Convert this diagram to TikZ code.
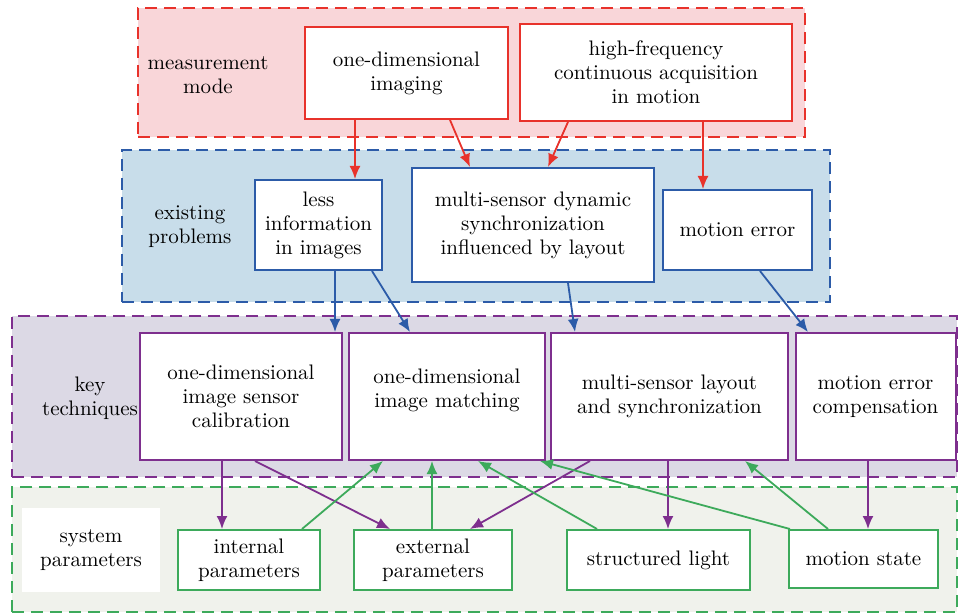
\documentclass[tikz,border=0pt]{standalone}
\usetikzlibrary{arrows.meta,calc}
\definecolor{rline}{HTML}{E8322B}
\definecolor{rfill}{HTML}{F9D6D9}
\definecolor{bline}{HTML}{2C5BA8}
\definecolor{bfill}{HTML}{C8DDEA}
\definecolor{pline}{HTML}{7E2F8E}
\definecolor{pfill}{HTML}{DCD9E5}
\definecolor{gline}{HTML}{3DAA5B}
\definecolor{gfill}{HTML}{F0F2EC}
\tikzset{
  region/.style={draw, line width=1pt, dash pattern=on 6pt off 3.5pt, inner sep=0pt},
  box/.style={draw, fill=white, line width=1pt, inner sep=0pt, align=center,
     font=\fontsize{10.5}{12}\selectfont},
  lab/.style={align=center, font=\fontsize{10.5}{12}\selectfont},
  arr/.style={line width=0.9pt, -{Latex[length=6.5pt,width=5.5pt]}},
}
\begin{document}
\begin{tikzpicture}[x=0.5pt,y=-0.5pt]
\useasboundingbox (0,0) rectangle (960,615);
% regions
\node[region, draw=rline, fill=rfill, minimum width=333.5pt, minimum height=64.5pt] (rreg) at (471.5,72.5) {};
\node[region, draw=bline, fill=bfill, minimum width=354pt, minimum height=76pt] (breg) at (476,226) {};
\node[region, draw=pline, fill=pfill, minimum width=472.5pt, minimum height=80.5pt] (preg) at (484.75,396.5) {};
\node[region, draw=gline, fill=gfill, minimum width=472.5pt, minimum height=62.5pt] (greg) at (484.75,549.5) {};
% labels
\node[lab] (lmm) at (208,75) {measurement\\mode};
\node[lab] (lep) at (190,227) {existing\\problems};
\node[lab] (lkt) at (90,398) {key\\techniques};
\node[lab, fill=white, minimum width=69pt, minimum height=42pt] (lsp) at (91,550) {system\\parameters};
% red boxes
\node[box, draw=rline, minimum width=101.5pt, minimum height=46pt] (img) at (406.5,73) {one-dimensional\\imaging};
\node[box, draw=rline, minimum width=136pt, minimum height=48.5pt] (hf) at (656,72.5) {high-frequency\\continuous acquisition\\in motion};
% blue boxes
\node[box, draw=bline, minimum width=63.5pt, minimum height=45pt] (less) at (318.5,225) {less\\information\\in images};
\node[box, draw=bline, minimum width=121pt, minimum height=57pt] (dyn) at (533,225) {multi-sensor dynamic\\synchronization\\influenced by layout};
\node[box, draw=bline, minimum width=74.5pt, minimum height=40pt] (merr) at (737.5,230) {motion error};
% purple boxes
\node[box, draw=pline, minimum width=101pt, minimum height=63.5pt] (cal) at (241,396.5) {one-dimensional\\image sensor\\calibration};
\node[box, draw=pline, minimum width=98pt, minimum height=63.5pt] (mat) at (447,396.5) {one-dimensional\\image matching\\[-4pt]\mbox{}};
\node[box, draw=pline, minimum width=118.5pt, minimum height=63.5pt] (lay) at (669.5,396.5) {multi-sensor layout\\and synchronization};
\node[box, draw=pline, minimum width=80pt, minimum height=63.5pt] (comp) at (875.5,396.5) {motion error\\compensation};
% green boxes
\node[box, draw=gline, minimum width=71pt, minimum height=30pt] (int) at (249,560) {internal\\parameters};
\node[box, draw=gline, minimum width=79pt, minimum height=30pt] (ext) at (433,560) {external\\parameters};
\node[box, draw=gline, minimum width=91.5pt, minimum height=30pt] (str) at (658.5,560) {structured light};
\node[box, draw=gline, minimum width=74.5pt, minimum height=29pt] (ms) at (863.5,559) {motion state};
% red arrows
\draw[arr, rline] ($(img.south)+(-51.5,0)$) -- ($(less.north)+(36.5,0)$);
\draw[arr, rline] ($(img.south)+(43.5,0)$) -- ($(dyn.north)+(-63,0)$);
\draw[arr, rline] ($(hf.south)+(-88,0)$) -- ($(dyn.north)+(15,0)$);
\draw[arr, rline] ($(hf.south)+(47,0)$) -- ($(merr.north)+(-34.5,0)$);
% blue arrows
\draw[arr, bline] ($(less.south)+(16.5,0)$) -- ($(cal.north)+(94,0)$);
\draw[arr, bline] ($(less.south)+(53.5,0)$) -- ($(mat.north)+(-37,0)$);
\draw[arr, bline] ($(dyn.south)+(35,0)$) -- ($(lay.north)+(-94.5,0)$);
\draw[arr, bline] ($(merr.south)+(22.5,0)$) -- ($(comp.north)+(-67.5,0)$);
% purple arrows
\draw[arr, pline] ($(cal.south)+(-19,0)$) -- ($(int.north)+(-27,0)$);
\draw[arr, pline] ($(cal.south)+(14,0)$) -- ($(ext.north)+(-43,0)$);
\draw[arr, pline] ($(lay.south)+(-79.5,0)$) -- ($(ext.north)+(37,0)$);
\draw[arr, pline] ($(lay.south)+(-1.5,0)$) -- ($(str.north)+(9.5,0)$);
\draw[arr, pline] ($(comp.south)+(-7.5,0)$) -- ($(ms.north)+(4.5,0)$);
% green arrows
\draw[arr, gline] ($(int.north)+(53,0)$) -- ($(mat.south)+(-64,0)$);
\draw[arr, gline] ($(ext.north)+(-1,0)$) -- ($(mat.south)+(-15,0)$);
\draw[arr, gline] ($(str.north)+(-61.5,0)$) -- ($(mat.south)+(31,0)$);
\draw[arr, gline] ($(ms.north)+(-73.5,0)$) -- ($(mat.south)+(93,0)$);
\draw[arr, gline] ($(ms.north)+(-35.5,0)$) -- ($(lay.south)+(75.5,0)$);
\end{tikzpicture}
\end{document}
